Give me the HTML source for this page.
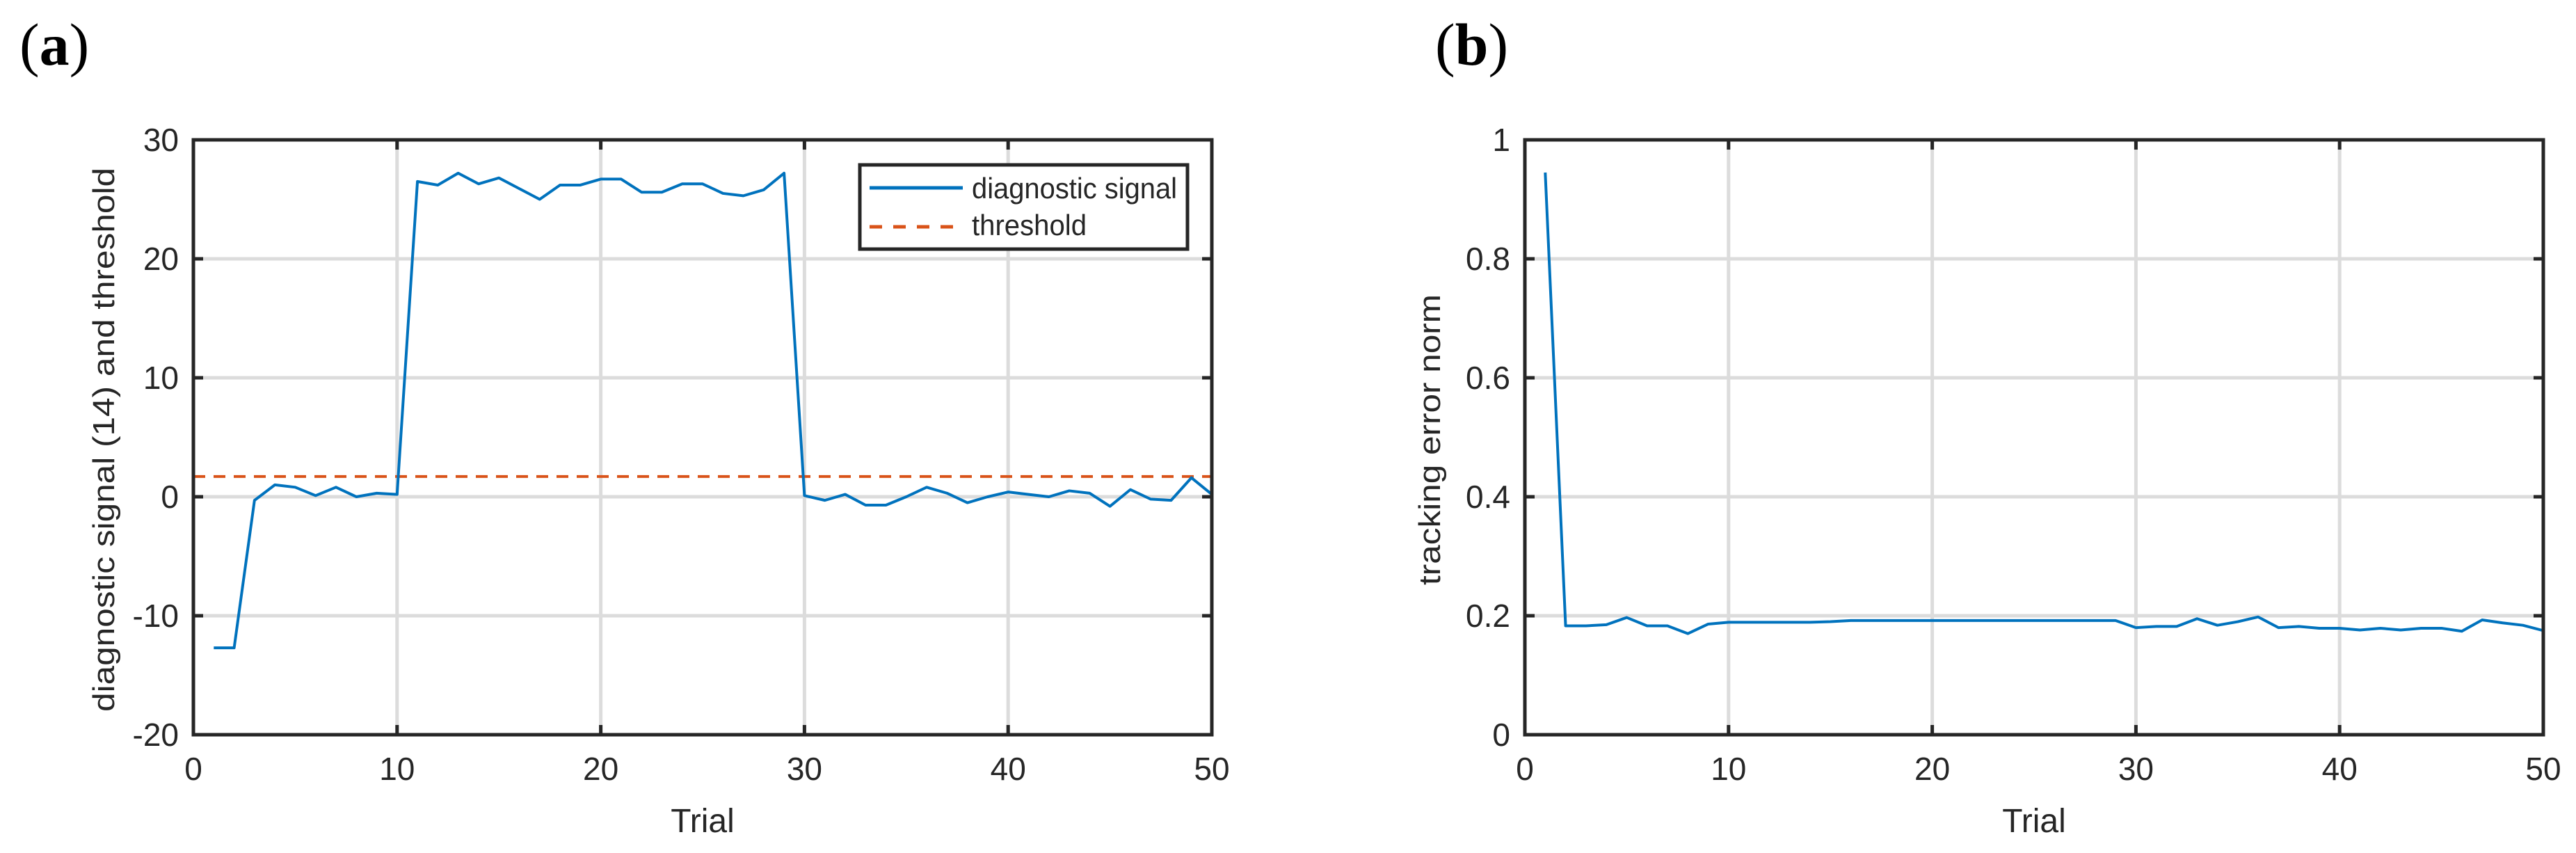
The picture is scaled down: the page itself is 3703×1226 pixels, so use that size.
<!DOCTYPE html>
<html><head><meta charset="utf-8"><style>
html,body{margin:0;padding:0;background:#fff;}
svg{display:block;}
text{font-family:"Liberation Sans",Arial,sans-serif;fill:#262626;}
</style></head><body>
<svg id="fig" width="3703" height="1226" viewBox="0 0 3703 1226" xmlns="http://www.w3.org/2000/svg">
<text x="28" y="93" style="font-family:'Liberation Serif',serif;font-size:86px;fill:#000">(<tspan font-weight="bold">a</tspan>)</text>
<text x="2063" y="93" style="font-family:'Liberation Serif',serif;font-size:86px;fill:#000">(<tspan font-weight="bold">b</tspan>)</text>
<g id="pa"></g>
<g id="pb"></g>
</svg>
<script>
const trialsA = [1,2,3,4,5,6,7,8,9,10,11,12,13,14,15,16,17,18,19,20,21,22,23,24,25,26,27,28,29,30,31,32,33,34,35,36,37,38,39,40,41,42,43,44,45,46,47,48,49,50];
const signalA = [-12.7,-12.7,-0.3,1.0,0.8,0.1,0.8,0.0,0.3,0.2,26.5,26.2,27.2,26.3,26.8,25.9,25.0,26.2,26.2,26.7,26.7,25.6,25.6,26.3,26.3,25.5,25.3,25.8,27.2,0.1,-0.3,0.2,-0.7,-0.7,0.0,0.8,0.3,-0.5,0.0,0.4,0.2,0.0,0.5,0.3,-0.8,0.6,-0.2,-0.3,1.6,0.2];
const thresholdA = 1.7;
const xTicks = [0,10,20,30,40,50];
const yTicksA = [-20,-10,0,10,20,30];
const yTickLabelsA = ["-20","-10","0","10","20","30"];
const trialsB = trialsA;
const errorB = [0.945,0.183,0.183,0.185,0.197,0.183,0.183,0.170,0.186,0.189,0.189,0.189,0.189,0.189,0.190,0.192,0.192,0.192,0.192,0.192,0.192,0.192,0.192,0.192,0.192,0.192,0.192,0.192,0.192,0.180,0.182,0.182,0.195,0.184,0.190,0.198,0.180,0.182,0.179,0.179,0.176,0.179,0.176,0.179,0.179,0.174,0.193,0.188,0.184,0.175];
const yTicksB = [0,0.2,0.4,0.6,0.8,1];
const yTickLabelsB = ["0","0.2","0.4","0.6","0.8","1"];

const NS="http://www.w3.org/2000/svg";
function mk(parent,tag,attrs){const e=document.createElementNS(NS,tag);for(const k in attrs)e.setAttribute(k,attrs[k]);parent.appendChild(e);return e;}

function drawChart(g,L,R,T,B,xmin,xmax,ymin,ymax,yTicks,yLabels,ylabel,ylabelCx,ylabelLen){
  const sx=v=>L+(v-xmin)/(xmax-xmin)*(R-L);
  const sy=v=>B-(v-ymin)/(ymax-ymin)*(B-T);
  xTicks.forEach(t=>{
    const gl=mk(g,'line',{x1:sx(t),x2:sx(t),y1:T,y2:B,stroke:'#dcdcdc','stroke-width':5});
    
    
  });
  yTicks.forEach(t=>{
    const gl=mk(g,'line',{x1:L,x2:R,y1:sy(t),y2:sy(t),stroke:'#dcdcdc','stroke-width':5});
    
    
  });
  const sc={sx,sy};
  return sc;
}
function finishAxes(g,L,R,T,B,sx,sy,yTicks,yLabels,ylabel,ylabelCx,ylabelLen){
  const box=mk(g,'rect',{x:L,y:T,width:R-L,height:B-T,fill:'none',stroke:'#262626','stroke-width':5});
  
  
  xTicks.forEach(t=>{
    mk(g,'line',{x1:sx(t),x2:sx(t),y1:B,y2:B-14,stroke:'#262626','stroke-width':5});
    mk(g,'line',{x1:sx(t),x2:sx(t),y1:T,y2:T+14,stroke:'#262626','stroke-width':5});
    const tl=mk(g,'text',{x:sx(t),y:1121,'text-anchor':'middle','font-size':'46'});
    tl.textContent=String(t);
    
    
  });
  yTicks.forEach((t,i)=>{
    mk(g,'line',{x1:L,x2:L+14,y1:sy(t),y2:sy(t),stroke:'#262626','stroke-width':5});
    mk(g,'line',{x1:R,x2:R-14,y1:sy(t),y2:sy(t),stroke:'#262626','stroke-width':5});
    const tl=mk(g,'text',{x:L-21,y:sy(t)+16,'text-anchor':'end','font-size':'46'});
    tl.textContent=yLabels[i];
    
    
  });
  const xt=mk(g,'text',{x:(L+R)/2,y:1196,'text-anchor':'middle','font-size':'48'});
  xt.textContent='Trial';
  
  
  const yt=mk(g,'text',{x:0,y:0,'text-anchor':'middle','font-size':'44',textLength:ylabelLen,lengthAdjust:'spacingAndGlyphs',transform:`translate(${ylabelCx},632) rotate(-90)`});
  yt.textContent=ylabel;
  
  
}

// Chart A
(function(){
  const g=document.getElementById('pa');
  const L=278,R=1742,T=201,B=1056;
  const {sx,sy}=drawChart(g,L,R,T,B,0,50,-20,30,yTicksA);
  const th=mk(g,'line',{x1:L,x2:R,y1:sy(thresholdA),y2:sy(thresholdA),stroke:'#D95319','stroke-width':4,'stroke-dasharray':'17 12'});
  
  
  const pts=trialsA.map((t,i)=>sx(t)+','+sy(signalA[i])).join(' ');
  const pl=mk(g,'polyline',{points:pts,fill:'none',stroke:'#0072BD','stroke-width':4,'stroke-linejoin':'round'});
  
  
  finishAxes(g,L,R,T,B,sx,sy,yTicksA,yTickLabelsA,'diagnostic signal (14) and threshold',164,782);
  const lg=mk(g,'g',{});
  
  
  mk(lg,'rect',{x:1236,y:237,width:471,height:121,fill:'#fff',stroke:'#262626','stroke-width':5});
  mk(lg,'line',{x1:1250,x2:1384,y1:270,y2:270,stroke:'#0072BD','stroke-width':5});
  mk(lg,'line',{x1:1250,x2:1384,y1:326,y2:326,stroke:'#D95319','stroke-width':5,'stroke-dasharray':'18 16'});
  const t1=mk(lg,'text',{x:1397,y:285,'font-size':'42',textLength:295,lengthAdjust:'spacingAndGlyphs',fill:'#000'});
  t1.textContent='diagnostic signal';
  
  
  const t2=mk(lg,'text',{x:1397,y:338,'font-size':'42',textLength:165,lengthAdjust:'spacingAndGlyphs',fill:'#000'});
  t2.textContent='threshold';
  
  
})();

// Chart B
(function(){
  const g=document.getElementById('pb');
  const L=2192,R=3656,T=201,B=1056;
  const {sx,sy}=drawChart(g,L,R,T,B,0,50,0,1,yTicksB);
  const pts=trialsB.map((t,i)=>sx(t)+','+sy(errorB[i])).join(' ');
  const pl=mk(g,'polyline',{points:pts,fill:'none',stroke:'#0072BD','stroke-width':4,'stroke-linejoin':'round'});
  
  
  finishAxes(g,L,R,T,B,sx,sy,yTicksB,yTickLabelsB,'tracking error norm',2070,418);
})();
</script>
</body></html>
